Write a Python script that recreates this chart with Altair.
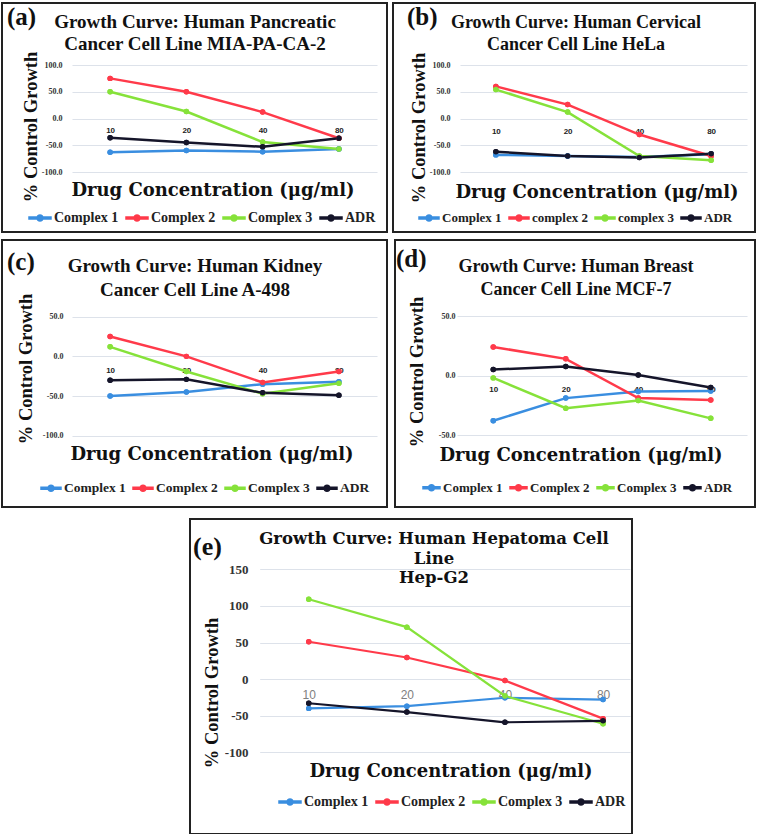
import json
import math
import altair as alt
import pandas as pd

# ---------------- data ----------------
conc_labels = ["10", "20", "40", "80"]

names_std = ["Complex 1", "Complex 2", "Complex 3", "ADR"]
names_b = ["Complex 1", "complex 2", "complex 3", "ADR"]

a_c1 = [-63, -60, -62, -57]
a_c2 = [75, 50, 12, -37]
a_c3 = [50, 13, -44, -57]
a_adr = [-36, -45, -53, -37]

b_c1 = [-68, -70, -72, -67]
b_c2 = [60, 26, -30, -70]
b_c3 = [54, 12, -70, -78]
b_adr = [-62, -70, -73, -66]

c_c1 = [-50, -45, -35, -32]
c_c2 = [25, 0, -33, -19]
c_c3 = [12, -19, -47, -34]
c_adr = [-30, -29, -46, -49]

d_c1 = [-38, -19, -13.5, -13]
d_c2 = [24, 14, -19, -20.5]
d_c3 = [-2, -27.5, -21, -36]
d_adr = [5, 7.5, 0.5, -10]

e_c1 = [-40, -37, -25.5, -28]
e_c2 = [51, 29.5, -2, -54]
e_c3 = [109, 71, -23, -61]
e_adr = [-33, -45, -59, -57]

ticks_100 = [100, 50, 0, -50, -100]
ticks_100_labels = ["100.0", "50.0", "0.0", "-50.0", "-100.0"]
ticks_c = [50, 0, -50, -100]
ticks_c_labels = ["50.0", "0.0", "-50.0", "-100.0"]
ticks_d = [50, 0, -50]
ticks_d_labels = ["50.0", "0.0", "-50.0"]
ticks_e = [150, 100, 50, 0, -50, -100]
ticks_e_labels = ["150", "100", "50", "0", "-50", "-100"]

series_colors = ["#3a8ee0", "#ff3a4a", "#86e23a", "#15152a"]

SERIF = "Liberation Serif"
WIDE = "DejaVu Serif"
SANS = "Liberation Sans"


def legend_symbol(r=0.28, half=0.09):
    # thin bar plus a small filled 16-gon (line-with-marker legend glyph)
    parts = ["M-1,%.3fL1,%.3fL1,%.3fL-1,%.3fZ" % (-half, -half, half, half)]
    pts = []
    for k in range(16):
        t = 2 * math.pi * k / 16
        pts.append("%.3f,%.3f" % (r * math.cos(t), r * math.sin(t)))
    parts.append("M" + "L".join(pts) + "Z")
    return " ".join(parts)


def text_layer(txt, x, y, font=SERIF, size=19, align="center", baseline="alphabetic",
               angle=0, color="#111111", line_height=None, weight="bold"):
    kw = dict(font=font, fontSize=size, fontWeight=weight, align=align,
              baseline=baseline, color=color, lineBreak="\n")
    if angle:
        kw["angle"] = angle
    if line_height:
        kw["lineHeight"] = line_height
    return alt.Chart(pd.DataFrame({"t": [txt]})).mark_text(**kw).encode(
        text="t:N", x=alt.value(x), y=alt.value(y))


def panel(p):
    rows = []
    for n, vals in zip(p["names"], p["series"]):
        for i, v in enumerate(vals):
            rows.append({"series": n, "idx": i, "conc": conc_labels[i], "value": v})
    df = pd.DataFrame(rows)

    ymin, ymax = p["ydomain"]
    ybot, ytop = p["yrange"]
    y0 = ybot + (0 - ymin) / (ymax - ymin) * (ytop - ybot)

    label_map = {str(t): l for t, l in zip(p["ticks"], p["tick_labels"])}
    x_expr = json.dumps(conc_labels) + "[datum.value]"
    y_expr = json.dumps(label_map) + "[toString(datum.value)]"

    X = alt.X("idx:Q",
              scale=alt.Scale(domain=[-0.5, p["xmax"]], range=p["xrange"], nice=False, zero=False),
              axis=alt.Axis(values=[0, 1, 2, 3], labelExpr=x_expr, orient="bottom",
                            offset=y0 - p["h"], grid=False, domain=False, ticks=False,
                            tickSize=0, labelPadding=p["xlab_pad"], labelBaseline="middle",
                            labelFont=SANS, labelFontSize=p["xlab_size"],
                            labelFontWeight=p["xlab_weight"], labelColor=p["xlab_color"],
                            labelFlush=False, labelOverlap=False, title=None))
    Y = alt.Y("value:Q",
              scale=alt.Scale(domain=[ymin, ymax], range=[ybot, ytop], nice=False, zero=False),
              axis=alt.Axis(values=p["ticks"], labelExpr=y_expr, orient="left",
                            offset=-p["ylab_right"], grid=True, gridColor="#dde2ea",
                            gridWidth=1.2, domain=False, ticks=False, tickSize=0,
                            labelPadding=0, labelFont=SERIF, labelFontSize=p["ylab_size"],
                            labelFontWeight="bold", labelColor="#333333",
                            labelOverlap=False, labelFlush=False, title=None))

    sym_w = p["leg_sym"]
    legend = alt.Legend(orient="none", legendX=p["legend"][0], legendY=p["legend"][1],
                        direction="horizontal", title=None,
                        symbolType=legend_symbol(r=3.0 / sym_w * 2, half=1.0 / sym_w * 2),
                        symbolSize=sym_w * sym_w, labelFont=SERIF,
                        labelFontSize=p["leg_font"], labelFontWeight="bold",
                        labelColor="#222222", labelOffset=2, columnPadding=4)
    C = alt.Color("series:N", scale=alt.Scale(domain=p["names"], range=series_colors),
                  legend=legend)

    pts_under = alt.Chart(df).mark_circle(size=30, opacity=1).encode(x=X, y=Y, color=C)
    lines = alt.Chart(df).mark_line(strokeWidth=p["lw"]).encode(x=X, y=Y, color=C)
    pts = alt.Chart(df).mark_circle(size=30, opacity=1).encode(x=X, y=Y, color=C)

    texts = [
        text_layer(p["title"], p["title_xy"][0], p["title_xy"][1], font=p["title_font"],
                   size=p["title_size"], line_height=p["title_lh"]),
        text_layer(p["letter"], p["letter_xy"][0], p["letter_xy"][1], size=p["letter_size"],
                   align="left"),
        text_layer("% Control Growth", p["ytitle_xy"][0], p["ytitle_xy"][1], size=18.5,
                   baseline="middle", angle=270),
        text_layer("Drug Concentration (μg/ml)", p["xtitle_xy"][0], p["xtitle_xy"][1],
                   font=WIDE, size=18),
    ]

    return alt.layer(pts_under, lines, pts, *texts).properties(
        width=p["w"], height=p["h"],
        view=alt.ViewBackground(stroke="#222222", strokeWidth=2, fill="white"))


def indep(c):
    return c.resolve_scale(color="independent").resolve_legend(color="independent")


common = dict(xmax=3.5, xlab_size=8, xlab_weight="bold", xlab_color="#222222",
              ylab_size=8, lw=2.5, title_font=SERIF, letter_size=25)

pa = dict(common, names=names_std, series=[a_c1, a_c2, a_c3, a_adr], w=385, h=229,
          ydomain=[-100, 100], yrange=[169, 62], xrange=[70, 375],
          ticks=ticks_100, tick_labels=ticks_100_labels, ylab_right=60, xlab_pad=12,
          title="Growth Curve: Human Pancreatic\nCancer Cell Line MIA-PA-CA-2",
          title_xy=(193, 25), title_size=19, title_lh=22,
          letter="(a)", letter_xy=(5, 22), ytitle_xy=(29, 124), xtitle_xy=(211, 193),
          legend=(26, 203), leg_sym=22, leg_font=14)

pb = dict(common, names=names_b, series=[b_c1, b_c2, b_c3, b_adr], w=362, h=229,
          ydomain=[-100, 100], yrange=[169, 62], xrange=[67, 354],
          ticks=ticks_100, tick_labels=ticks_100_labels, ylab_right=57, xlab_pad=13,
          title="Growth Curve: Human Cervical\nCancer Cell Line HeLa",
          title_xy=(183, 25), title_size=18, title_lh=22,
          letter="(b)", letter_xy=(14, 22), ytitle_xy=(26, 125), xtitle_xy=(204, 195),
          legend=(25, 204), leg_sym=20, leg_font=13)

pc = dict(common, names=names_std, series=[c_c1, c_c2, c_c3, c_adr], w=385, h=267,
          ydomain=[-100, 50], yrange=[195.7, 76.7], xrange=[70, 375],
          ticks=ticks_c, tick_labels=ticks_c_labels, ylab_right=61, xlab_pad=14,
          title="Growth Curve: Human Kidney\nCancer Cell Line A-498",
          title_xy=(193, 32), title_size=19, title_lh=24,
          letter="(c)", letter_xy=(5, 30), ytitle_xy=(24, 129), xtitle_xy=(210, 220),
          legend=(38, 237), leg_sym=20, leg_font=13.5)

pd_ = dict(common, names=names_std, series=[d_c1, d_c2, d_c3, d_adr], w=360, h=267,
           ydomain=[-50, 50], yrange=[195, 76], xrange=[62, 352],
           ticks=ticks_d, tick_labels=ticks_d_labels, ylab_right=60, xlab_pad=14,
           title="Growth Curve: Human Breast\nCancer Cell Line MCF-7",
           title_xy=(181, 32), title_size=18, title_lh=23,
           letter="(d)", letter_xy=(1, 27), ytitle_xy=(22, 132), xtitle_xy=(186, 221),
           legend=(27, 238), leg_sym=17, leg_font=13)

e_step = 98.1
e_left = 69.7
e_right = 440
pe = dict(common, names=names_std, series=[e_c1, e_c2, e_c3, e_adr], w=442, h=315,
          ydomain=[-100, 150], yrange=[233.3, 50.3], xrange=[e_left, e_right],
          xmax=-0.5 + (e_right - e_left) / e_step,
          ticks=ticks_e, tick_labels=ticks_e_labels, ylab_right=58, xlab_pad=15,
          xlab_size=12, xlab_weight="normal", xlab_color="#808080", ylab_size=13, lw=2.2,
          title="Growth Curve: Human Hepatoma Cell\nLine\nHep-G2",
          title_xy=(244, 25), title_size=16.5, title_lh=19.7, title_font=WIDE,
          letter="(e)", letter_xy=(3, 36), letter_size=26, ytitle_xy=(22, 174),
          xtitle_xy=(261, 258), legend=(88, 271), leg_sym=22, leg_font=14)

spacer = alt.Chart(pd.DataFrame({"t": [""]})).mark_text().encode(
    text="t:N", x=alt.value(0), y=alt.value(0)).properties(
    width=186, height=10, view=alt.ViewBackground(stroke="white", strokeWidth=1))

row1 = indep(alt.hconcat(panel(pa), panel(pb), spacing=4))
row2 = indep(alt.hconcat(panel(pc), panel(pd_), spacing=6))
row3 = indep(alt.hconcat(spacer, panel(pe), spacing=0))

chart = indep(alt.vconcat(
    indep(alt.vconcat(row1, row2, spacing=6)),
    row3, spacing=4
)).properties(
    padding={"left": 1, "top": 2, "right": 0, "bottom": 0},
    background="white"
)

chart.save("out.html", embed_options={"renderer": "svg", "actions": False})
